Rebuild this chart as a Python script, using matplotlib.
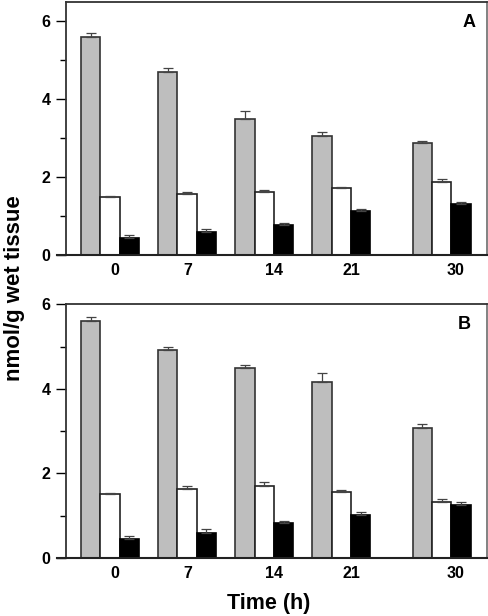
import matplotlib
matplotlib.use("Agg")
import matplotlib.pyplot as plt
import numpy as np

plt.rcParams['font.family'] = ['Liberation Sans', 'DejaVu Sans']
plt.rcParams['font.weight'] = 'bold'

time_labels = ["0", "7", "14", "21", "30"]

# panel A
a_gray = [5.60, 4.71, 3.48, 3.06, 2.88]
a_gray_err = [0.10, 0.10, 0.21, 0.09, 0.06]
a_white = [1.50, 1.56, 1.61, 1.71, 1.88]
a_white_err = [0.02, 0.05, 0.07, 0.03, 0.07]
a_black = [0.44, 0.59, 0.77, 1.13, 1.31]
a_black_err = [0.07, 0.07, 0.05, 0.05, 0.04]

# panel B
b_gray = [5.61, 4.91, 4.49, 4.17, 3.07]
b_gray_err = [0.10, 0.09, 0.07, 0.20, 0.09]
b_white = [1.51, 1.64, 1.71, 1.56, 1.33]
b_white_err = [0.02, 0.06, 0.10, 0.04, 0.06]
b_black = [0.44, 0.60, 0.82, 1.01, 1.26]
b_black_err = [0.08, 0.09, 0.05, 0.07, 0.07]

group_x = np.array([0, 1, 2, 3, 4.3])
label_x = group_x + np.array([0.06, 0.01, 0.13, 0.13, 0.18])
w = 0.25


def draw_panel(ax, gray, gray_err, white, white_err, black, black_err, ymax, letter, letter_x):
    ekw = dict(ecolor="#444444", elinewidth=0.9, capsize=3.5, capthick=0.9)
    ax.bar(group_x - w, gray, w, color="#bebebe", edgecolor="#333333", linewidth=1.2,
           yerr=[np.zeros(5), gray_err], error_kw=ekw, zorder=2)
    ax.bar(group_x, white, w, color="white", edgecolor="#222222", linewidth=1.2,
           yerr=[np.zeros(5), white_err], error_kw=ekw, zorder=2)
    ax.bar(group_x + w, black, w, color="black", edgecolor="black", linewidth=1.2,
           yerr=[np.zeros(5), black_err], error_kw=ekw, zorder=2)

    ax.set_xlim(-0.57, 4.88)
    ax.set_ylim(0, ymax)
    ax.set_yticks([0, 2, 4, 6])
    ax.set_yticks([1, 3, 5], minor=True)
    ax.tick_params(axis="y", which="major", direction="out", length=7, width=1,
                   labelsize=11.5, pad=4)
    ax.tick_params(axis="y", which="minor", direction="out", length=4, width=1)
    ax.set_xticks(label_x)
    ax.set_xticklabels(time_labels)
    ax.tick_params(axis="x", length=0, labelsize=11.5, pad=6)
    for lab in ax.get_xticklabels() + ax.get_yticklabels():
        lab.set_fontweight("bold")

    for s in ["top", "right", "left"]:
        ax.spines[s].set_color("#333333")
        ax.spines[s].set_linewidth(1.3)
    ax.spines["right"].set_color("#777777")
    ax.spines["bottom"].set_visible(False)
    ax.plot([-0.02, 1], [0, 0], transform=ax.transAxes, color="#222222",
            linewidth=1.5, clip_on=False, zorder=3)

    ax.text(letter_x, 0.92, letter, transform=ax.transAxes, ha="center", va="center",
            fontsize=13, fontweight="bold")


fig = plt.figure(figsize=(4.88, 6.16), dpi=100)
ax_a = fig.add_axes([0.135, 0.586, 0.862, 0.411])
ax_b = fig.add_axes([0.135, 0.094, 0.862, 0.412])

draw_panel(ax_a, a_gray, a_gray_err, a_white, a_white_err, a_black, a_black_err, 6.5, "A", 0.958)
draw_panel(ax_b, b_gray, b_gray_err, b_white, b_white_err, b_black, b_black_err, 6.0, "B", 0.947)

fig.text(0.029, 0.532, "nmol/g wet tissue", rotation=90, ha="center", va="center",
         fontsize=16, fontweight="bold")
fig.text(0.55, 0.021, "Time (h)", ha="center", va="center", fontsize=15.5, fontweight="bold")

fig.savefig("out.png", dpi=100)
